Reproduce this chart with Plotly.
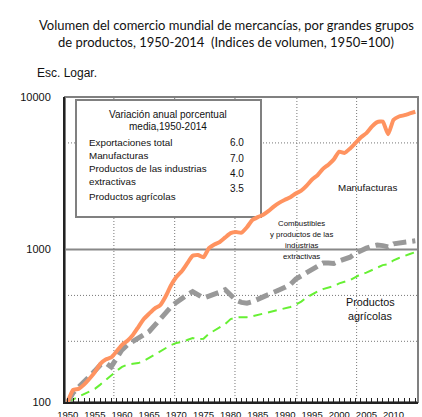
import plotly.graph_objects as go

years = list(range(1950, 2015))

manufacturas = [100, 120, 122, 130, 142, 157, 178, 190, 196, 215,
                237, 252, 275, 310, 350, 380, 410, 430, 490, 580,
                660, 720, 810, 910, 920, 890, 1020, 1080, 1120, 1200,
                1280, 1300, 1290, 1400, 1560, 1630, 1690, 1790, 1920, 2030,
                2120, 2200, 2330, 2430, 2620, 2880, 3070, 3380, 3600, 3900,
                4380, 4300, 4600, 5000, 5450, 5800, 6400, 6850, 6900, 5700,
                7100, 7450, 7600, 7800, 8000]

combustibles = [100, 115, 125, 135, 145, 160, 175, 180, 170, 195,
                220, 237, 250, 265, 278, 290, 318, 350, 385, 420,
                450, 480, 505, 530, 505, 480, 495, 505, 525, 545,
                505, 465, 450, 445, 455, 470, 488, 505, 525, 545,
                565, 590, 640, 670, 700, 730, 770, 815, 815, 810,
                840, 860, 890, 945, 990, 1020, 1050, 1070, 1060, 1040,
                1090, 1105, 1115, 1125, 1140]

agricolas = [100, 104, 108, 112, 116, 122, 130, 140, 150, 160,
             170, 176, 178, 180, 186, 195, 203, 212, 224, 236,
             244, 248, 255, 263, 258, 260, 280, 295, 310, 325,
             350, 358, 360, 360, 365, 372, 380, 388, 395, 400,
             410, 420, 435, 455, 485, 510, 530, 550, 560, 575,
             600, 615, 630, 660, 690, 705, 735, 765, 790, 800,
             850, 880, 910, 935, 960]

x_tick_vals = list(range(1950, 2015, 5))
x_tick_text = [str(v) for v in x_tick_vals]
y_tick_vals = [100, 1000, 10000]
y_tick_text = ["100", "1000", "10000"]

legend_rows = ["Exportaciones total", "Manufacturas", "Productos de las industrias", "extractivas", "Productos agrícolas"]
legend_vals = ["6.0", "7.0", "4.0", "3.5"]

GRID_X = [1958.5, 1969.7, 1980.8, 1992.2, 2003.2]
GRID_Y_DOT = [250, 500, 5000]

W, H = 422, 417
L, R, T, B = 65, 4, 97, 15
PW, PH = W - L - R, H - T - B


def px(x):
    return (x - L) / PW


def py(y):
    return (H - B - y) / PH


SANS = "Liberation Sans, Arial, sans-serif"
TITLE = "Lato, Liberation Sans, sans-serif"

fig = go.Figure()

fig.add_trace(go.Scatter(x=years, y=agricolas, mode="lines", name="Productos agrícolas",
                         line=dict(color="#66F033", width=2, dash="9px,6px"), showlegend=False))
fig.add_trace(go.Scatter(x=years, y=combustibles, mode="lines", name="Combustibles",
                         line=dict(color="#999999", width=5, dash="13px,6px"), showlegend=False))
fig.add_trace(go.Scatter(x=years, y=manufacturas, mode="lines", name="Manufacturas",
                         line=dict(color="#FF9360", width=4, shape="spline", smoothing=0.5),
                         showlegend=False))

shapes = []
for gx in GRID_X:
    shapes.append(dict(type="line", xref="x", yref="paper", x0=gx, x1=gx, y0=0, y1=1,
                       line=dict(color="#777777", width=1, dash="1px,2px"), layer="below"))
for gy in GRID_Y_DOT:
    shapes.append(dict(type="line", xref="paper", yref="y", x0=0, x1=1, y0=gy, y1=gy,
                       line=dict(color="#777777", width=1, dash="1px,2px"), layer="below"))
shapes.append(dict(type="line", xref="paper", yref="y", x0=0, x1=1, y0=1000, y1=1000,
                   line=dict(color="#888888", width=2), layer="below"))
shapes.append(dict(type="rect", xref="paper", yref="paper", x0=0, x1=1, y0=0, y1=1,
                   line=dict(color="#808080", width=2), layer="below"))
shapes.append(dict(type="rect", xref="paper", yref="paper", x0=px(76), x1=px(261), y0=py(217), y1=py(100),
                   line=dict(color="#808080", width=2), fillcolor="white", layer="below"))

ann = []


def add_text(text, x, y, size, anchor="center", family=SANS):
    ann.append(dict(text=text, xref="paper", yref="paper", x=px(x), y=py(y), xanchor=anchor,
                    yanchor="middle", showarrow=False, font=dict(family=family, size=size, color="#111111")))


add_text("Volumen del comercio mundial de mercancías, por grandes grupos", 226, 25, 13, family=TITLE)
add_text("de productos, 1950-2014  (Indices de volumen, 1950=100)", 226, 42, 13, family=TITLE)
add_text("Esc. Logar.", 35, 73, 12, "left")

add_text("Variación anual porcentual", 167.5, 114, 10)
add_text("media,1950-2014", 167.5, 126, 10)
row_y = [142, 155, 168.5, 181, 196]
for t, yy in zip(legend_rows, row_y):
    add_text(t, 86.5, yy, 9.8, "left")
val_y = [142, 158.5, 173.5, 188.5]
for t, yy in zip(legend_vals, val_y):
    add_text(t, 237, yy, 10)

add_text("Manufacturas", 367.5, 187, 9.8)
for t, yy in zip(["Combustibles", "y productos de las", "industrias", "extractivas"], [223, 234, 245, 256]):
    add_text(t, 301.5, yy, 7.8)
add_text("Productos", 370, 302, 10.8)
add_text("agrícolas", 370, 316, 10.8)

fig.update_layout(
    width=W, height=H,
    margin=dict(l=L, r=R, t=T, b=B, pad=0, autoexpand=False),
    paper_bgcolor="white", plot_bgcolor="white",
    shapes=shapes, annotations=ann, showlegend=False,
    xaxis=dict(range=[1949.5, 2014.5], tickvals=x_tick_vals, ticktext=x_tick_text,
               ticks="inside", ticklen=4, tickcolor="#222222", tickwidth=1,
               minor=dict(dtick=1, tick0=1950, ticks="inside", ticklen=4, tickcolor="#222222", showgrid=False),
               showgrid=False, zeroline=False, showline=True, linecolor="#222222", linewidth=2,
               tickfont=dict(family=SANS, size=9.5, color="#111111"), ticklabelstandoff=3,
               automargin=False, fixedrange=True),
    yaxis=dict(type="log", range=[2, 4], tickvals=y_tick_vals, ticktext=y_tick_text,
               ticks="", showgrid=False, zeroline=False, showline=True, linecolor="#222222", linewidth=2,
               tickfont=dict(family=SANS, size=11, color="#111111"), ticklabelstandoff=10,
               automargin=False, fixedrange=True),
)

fig.write_html("out.html", config={"displayModeBar": False, "staticPlot": True},
               post_script="document.body.style.margin='0';document.body.style.overflow='hidden';")
